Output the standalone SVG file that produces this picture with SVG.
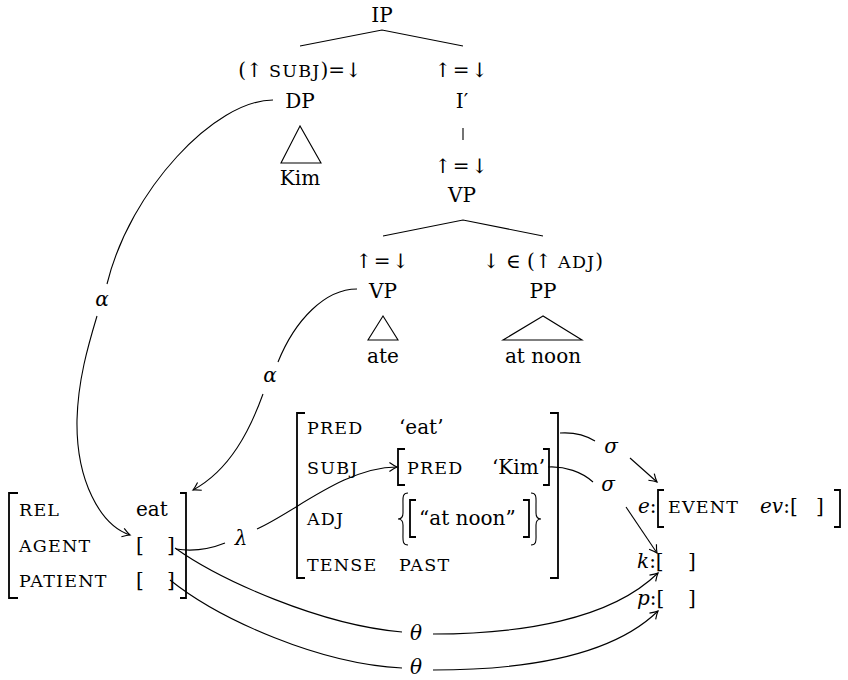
<svg xmlns="http://www.w3.org/2000/svg" width="848" height="680" viewBox="0 0 848 680">
<defs>
  <marker id="arr" markerUnits="userSpaceOnUse" markerWidth="14" markerHeight="14" viewBox="-8 -6 9 12" refX="0" refY="0" orient="auto" overflow="visible">
    <path d="M-6.5,-3.8 Q-2.5,-1 0,0 Q-2.5,1 -6.5,3.8" fill="none" stroke="#000" stroke-width="1"/>
  </marker>
</defs>
<style>
  text{font-family:"DejaVu Serif","Liberation Serif",serif;font-size:20px;fill:#000}
  .c{text-anchor:middle}
  .sc{font-size:17.5px;letter-spacing:1.2px}
  .it{font-style:italic}
  .ln{fill:none;stroke:#000;stroke-width:1.1}
  .br{fill:none;stroke:#000;stroke-width:1.8}
  .cv{fill:none;stroke:#000;stroke-width:1.1}
</style>
<rect width="848" height="680" fill="#fff"/>

<!-- c-structure tree -->
<g id="ip"><text class="c" x="382" y="22">IP</text></g>
<g id="dp">
  <text class="c" x="300" y="77">(↑ <tspan class="sc">SUBJ</tspan>)=↓</text>
  <text class="c" x="300" y="108">DP</text>
</g>
<g id="dp-kim">
  <path class="ln" d="M300,126 L281,163 L321,163 Z"/>
  <text class="c" x="300" y="185">Kim</text>
</g>
<g id="ibar">
  <text class="c" x="462" y="77" style="letter-spacing:1.5px">↑=↓</text>
  <text class="c" x="462" y="108">I′</text>
</g>
<g id="vp-top">
  <text class="c" x="462" y="173" style="letter-spacing:1.5px">↑=↓</text>
  <text class="c" x="462" y="202">VP</text>
</g>
<g id="vp-head">
  <text class="c" x="383" y="268" style="letter-spacing:1.5px">↑=↓</text>
  <text class="c" x="383" y="298">VP</text>
  <path class="ln" d="M383,316 L368,340 L398,340 Z"/>
  <text class="c" x="383" y="363">ate</text>
</g>
<g id="pp">
  <text class="c" x="543" y="268">↓ ∈ (↑ <tspan class="sc">ADJ</tspan>)</text>
  <text class="c" x="543" y="298">PP</text>
  <path class="ln" d="M543,316 L503,340 L582,340 Z"/>
  <text class="c" x="543" y="363">at noon</text>
</g>

<!-- argument structure -->
<g id="a-structure">
  <path class="br" d="M18,493 H9 V598 H18"/>
  <path class="br" d="M180,493 H186 V598 H180"/>
  <text class="sc" x="19" y="516">REL</text>
  <text x="136" y="516">eat</text>
  <text class="sc" x="19" y="552">AGENT</text>
  <text x="136" y="552">[</text><text x="167" y="552">]</text>
  <text class="sc" x="19" y="587">PATIENT</text>
  <text x="136" y="587">[</text><text x="167" y="587">]</text>
</g>

<!-- f-structure -->
<g id="f-structure">
  <path class="br" d="M305,413 H297 V578 H305"/>
  <path class="br" d="M550,413 H558 V578 H550"/>
  <text class="sc" x="307" y="434">PRED</text>
  <text x="399" y="434">‘eat’</text>
  <text class="sc" x="307" y="474">SUBJ</text>
  <text class="sc" x="307" y="525">ADJ</text>
  <text class="sc" x="307" y="571">TENSE</text>
  <text class="sc" x="399" y="571">PAST</text>
</g>
<g id="f-subj">
  <path class="br" d="M405,449 H398 V485 H405"/>
  <path class="br" d="M543,449 H549 V485 H543"/>
  <text class="sc" x="407" y="474">PRED</text>
  <text x="492" y="474">‘Kim’</text>
</g>
<g id="f-adj">
  <path class="ln" stroke-width="1.4" d="M408,493 C402,493 403,498 403,505 L403,513 C403,517 401,519 398,519 C401,519 403,521 403,525 L403,533 C403,540 402,545 408,545"/>
  <path class="ln" stroke-width="1.4" d="M531,493 C537,493 536,498 536,505 L536,513 C536,517 538,519 541,519 C538,519 536,521 536,525 L536,533 C536,540 537,545 531,545"/>
  <path class="br" d="M416,500 H410 V537 H416"/>
  <path class="br" d="M523,500 H529 V537 H523"/>
  <text x="419" y="525">“at noon”</text>
</g>

<!-- semantic structures -->
<g id="s-event">
  <text x="638" y="513"><tspan class="it">e</tspan>:</text>
  <path class="br" d="M664,490 H658 V527 H664"/>
  <text class="sc" x="668" y="513">EVENT</text>
  <text x="760" y="513"><tspan class="it">ev</tspan>:[</text>
  <text x="816" y="513">]</text>
  <path class="br" d="M834,490 H840 V527 H834"/>
</g>
<g id="s-k">
  <text x="637" y="568"><tspan class="it">k</tspan>:[</text>
  <text x="688" y="568">]</text>
</g>
<g id="s-p">
  <text x="637" y="605"><tspan class="it">p</tspan>:[</text>
  <text x="688" y="605">]</text>
</g>

<!-- connectors -->
<g id="connectors">
  <path class="ln" d="M300,46 L382,30 L463,46"/>
  <path class="ln" d="M463,128 V140"/>
  <path class="ln" d="M383,236 L463,220 L543,236"/>

  <!-- alpha: DP to AGENT -->
  <path class="cv" d="M273,100 C215,100 130,190 107,284"/>
  <text class="it c" x="102" y="306">α</text>
  <path class="cv" marker-end="url(#arr)" d="M97,316 C88,346 78,380 77,420 C76,480 100,525 130,535"/>

  <!-- alpha: VP to a-structure -->
  <path class="cv" d="M357,289 C325,289 295,320 278,362"/>
  <text class="it c" x="270" y="382">α</text>
  <path class="cv" marker-end="url(#arr)" d="M263,394 C250,430 230,470 193,490"/>

  <!-- lambda: AGENT to SUBJ -->
  <path class="cv" d="M176,549 C195,552 210,549 225,543"/>
  <text class="it c" x="241" y="545">λ</text>
  <path class="cv" marker-end="url(#arr)" d="M257,529 C295,512 345,467 397,467"/>

  <!-- sigma projections -->
  <path class="cv" d="M560,433 C575,432 587,436 595,441"/>
  <text class="it c" x="611" y="453">σ</text>
  <path class="cv" marker-end="url(#arr)" d="M630,458 L657,482"/>
  <path class="cv" d="M548,467 C565,466 582,472 593,482"/>
  <text class="it c" x="608" y="491">σ</text>
  <path class="cv" marker-end="url(#arr)" d="M626,507 L657,553"/>

  <!-- theta mappings -->
  <path class="cv" d="M175,548 C220,580 320,625 402,632"/>
  <text class="it c" x="416" y="640">θ</text>
  <path class="cv" marker-end="url(#arr)" d="M433,634 C520,634 610,620 658,573"/>
  <path class="cv" d="M170,580 C220,620 320,664 402,668"/>
  <text class="it c" x="416" y="674">θ</text>
  <path class="cv" marker-end="url(#arr)" d="M433,670 C520,670 610,658 658,611"/>
</g>
</svg>
